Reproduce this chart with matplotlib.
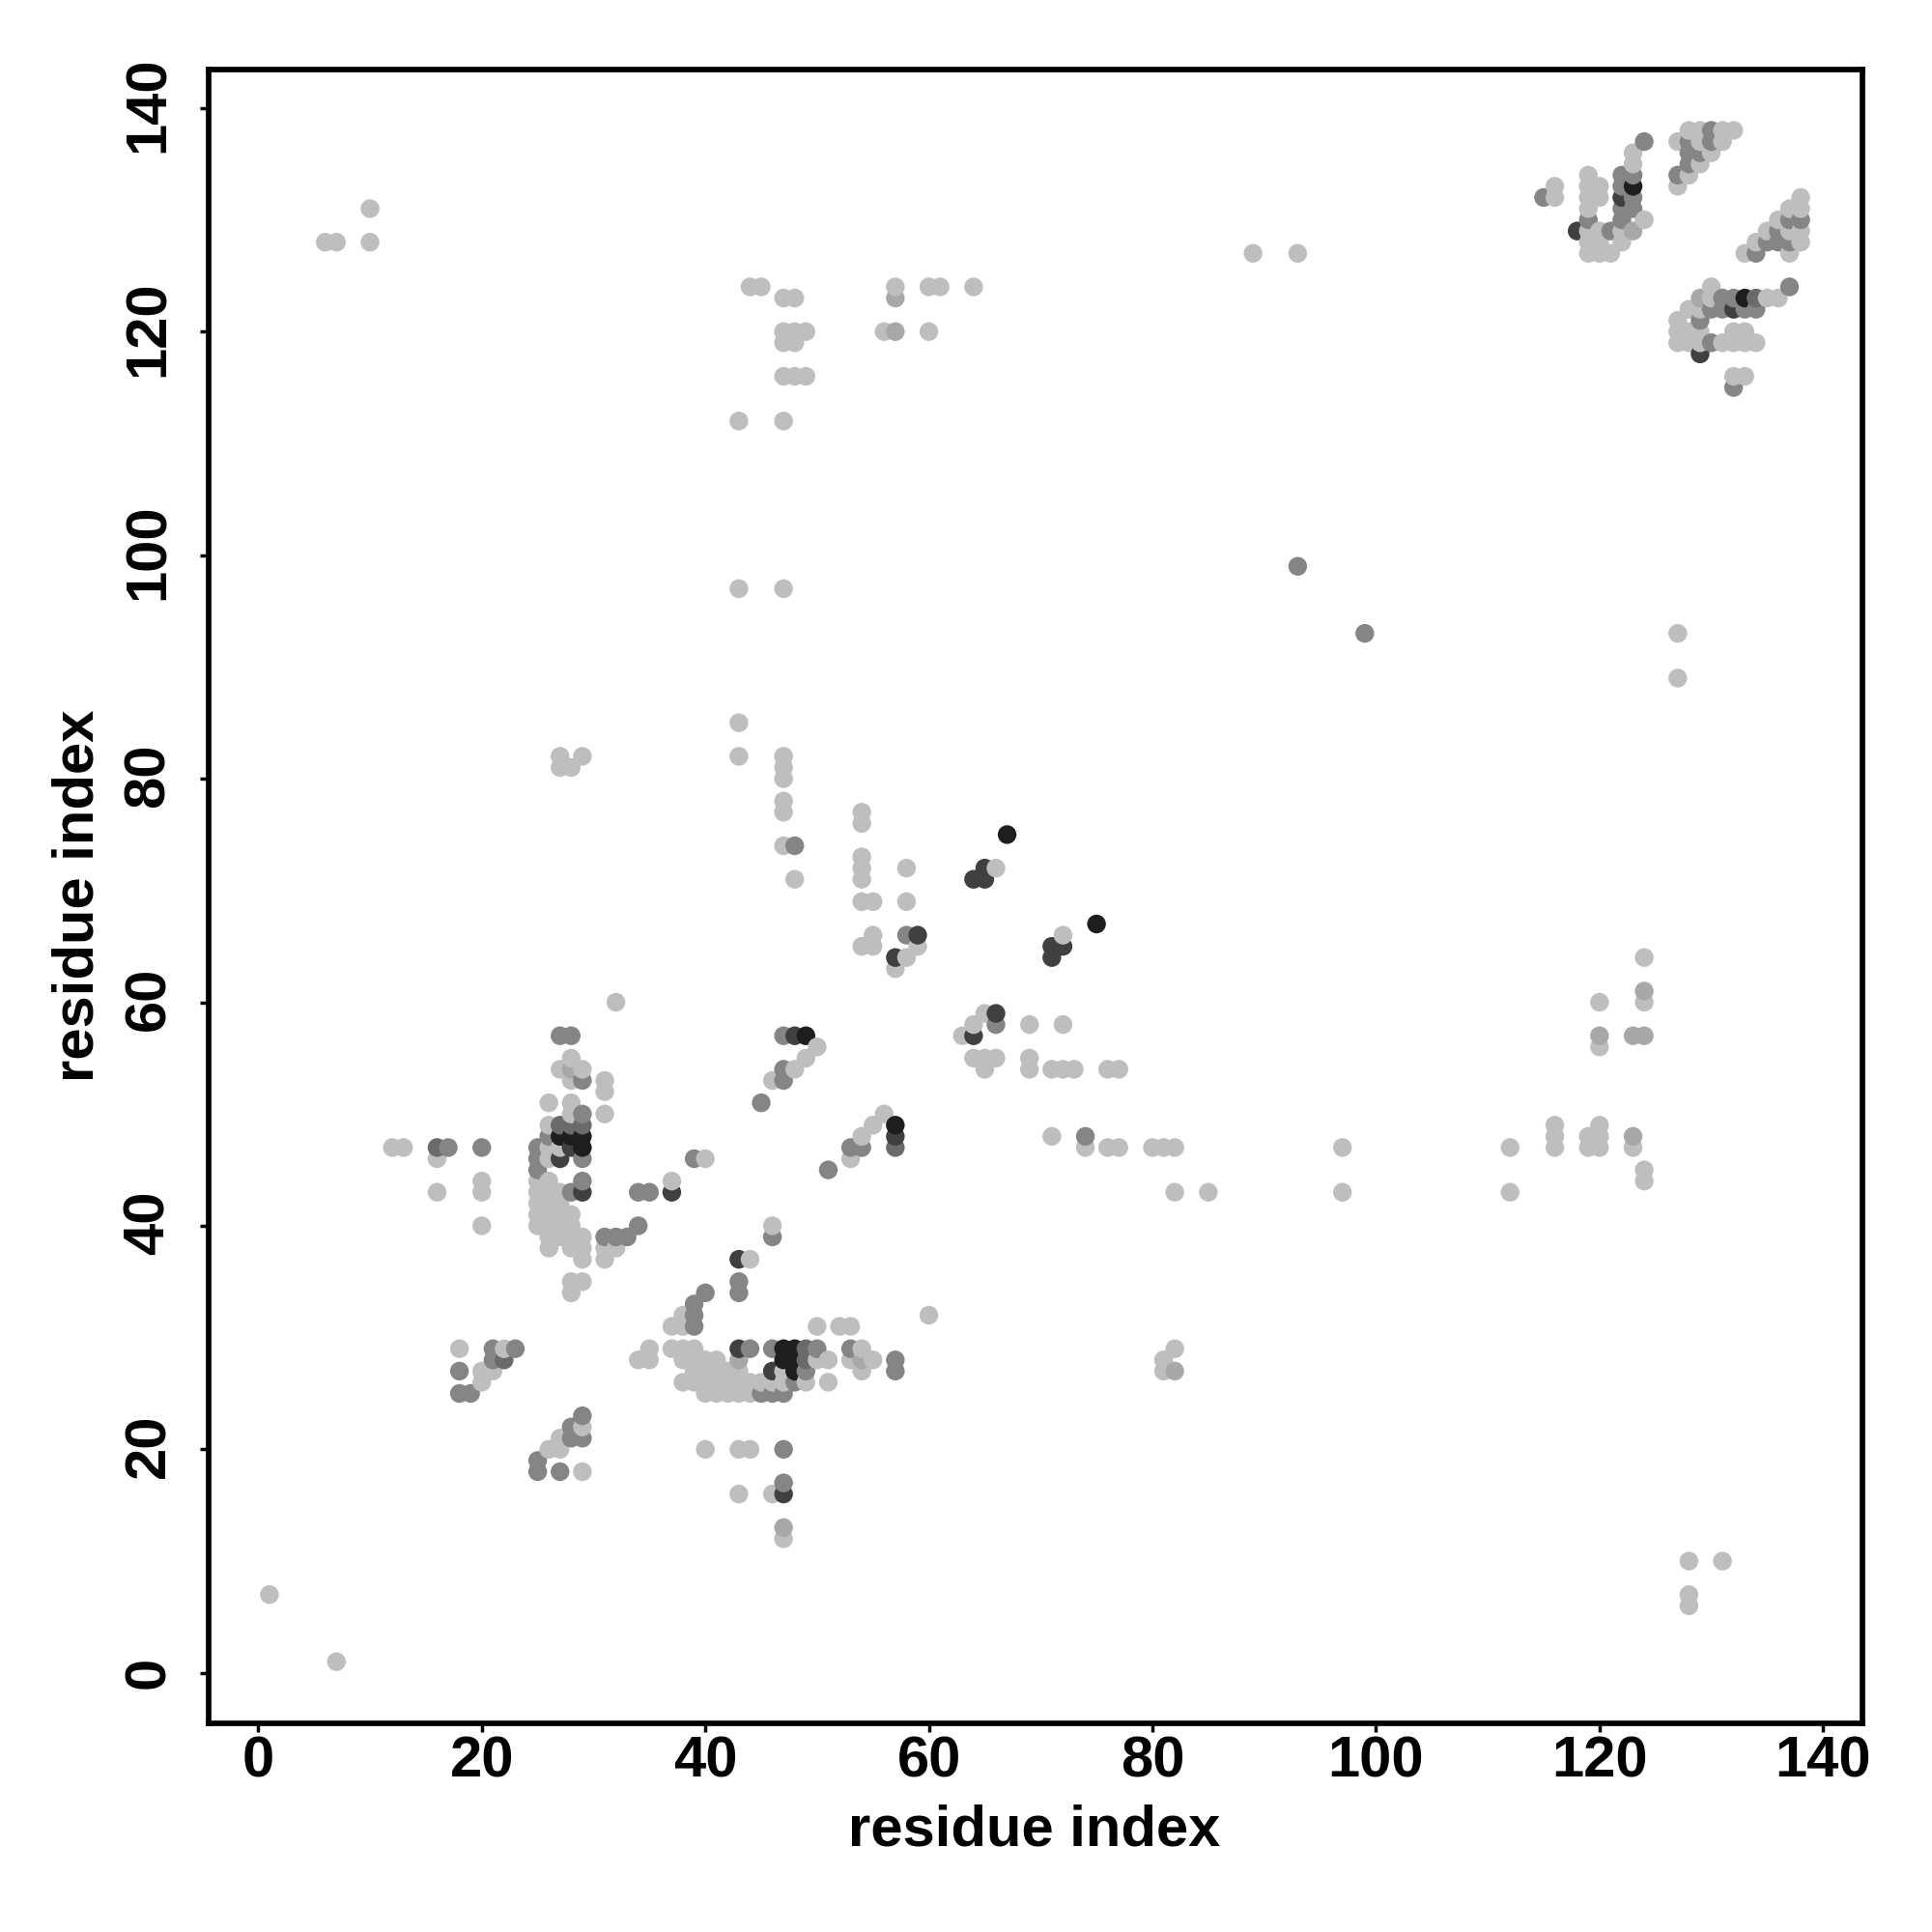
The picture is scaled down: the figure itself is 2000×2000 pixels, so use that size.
import matplotlib
matplotlib.use('Agg')
import matplotlib.pyplot as plt
from matplotlib.transforms import ScaledTranslation

# contacts, grouped by grey level
light_x = [1, 7, 128, 131, 128, 128, 6, 7, 10, 10,
           44, 45, 47, 48, 47, 48, 49, 47, 48, 47, 48, 49, 43, 47, 43, 47, 43, 43, 47, 47, 47, 47, 47, 47, 48,
           27, 29, 27, 28, 56, 60, 57, 60, 61, 64, 89, 93, 127, 127,
           54, 54, 54, 54, 54, 54, 55, 58, 58, 54, 55, 55, 57, 58, 59, 66, 72,
           65, 64, 63, 64, 65, 66, 65, 69, 72, 69, 69, 71, 72, 73, 76, 77, 71, 74, 76, 77, 80, 81, 82, 82, 85,
           97, 97, 112, 112, 116, 116, 116, 119, 119, 120, 120, 120, 120, 120, 124, 124, 123, 124, 124,
           32, 50, 49, 48, 46, 53, 54, 55, 56,
           28, 27, 29, 28, 31, 31, 31, 26, 28, 28, 26, 26, 27, 26,
           25, 26, 25, 26, 27, 25, 26, 27, 25, 26, 27, 28, 25, 26, 27, 28, 26, 27, 28, 29, 26, 28, 29, 29,
           31, 32, 31, 28, 29, 28, 37, 40, 44, 46, 20, 20, 20, 12, 13, 16, 16,
           44, 38, 37, 38, 35, 37, 38, 39, 54,
           34, 35, 38, 39, 40, 41, 50, 51, 53, 55, 39, 40, 41, 42, 43, 47, 54,
           38, 39, 40, 41, 42, 43, 44, 45, 46, 47, 49, 51, 40, 41, 42, 43, 44,
           50, 52, 53, 60, 40, 43, 44, 43, 46, 47,
           18, 20, 20, 21, 22, 26, 27, 27, 29, 29, 82, 81, 81,
           123, 123, 124, 122, 122, 116, 116, 119, 119, 120, 119, 120, 119, 119, 120, 119, 120, 119, 120, 121,
           128, 129, 131, 132, 127, 129, 131, 130, 129, 128, 127,
           138, 137, 138, 136, 135, 137, 138, 134, 138, 133, 137,
           130, 130, 135, 136, 128, 129, 127, 127, 128, 129, 132, 133, 127, 128, 129, 131, 132, 133, 134, 132, 133]
light_y = [7, 1, 10, 10, 7, 6, 128, 128, 128, 131,
           124, 124, 123, 123, 120, 120, 120, 119, 119, 116, 116, 116, 112, 112, 97, 97, 85, 82, 82, 81, 80, 78, 77, 74, 71,
           82, 82, 81, 81, 120, 120, 124, 124, 124, 124, 127, 127, 93, 89,
           77, 76, 73, 72, 71, 69, 69, 72, 69, 65, 66, 65, 63, 64, 65, 72, 66,
           59, 58, 57, 55, 55, 55, 54, 58, 58, 55, 54, 54, 54, 54, 54, 54, 48, 47, 47, 47, 47, 47, 47, 43, 43,
           47, 43, 47, 43, 49, 48, 47, 48, 47, 49, 48, 47, 60, 56, 64, 60, 47, 45, 44,
           60, 56, 55, 54, 53, 46, 48, 49, 50,
           55, 54, 54, 53, 53, 52, 50, 51, 51, 50, 49, 47, 47, 46,
           44, 44, 43, 43, 43, 42, 42, 42, 41, 41, 41, 41, 40, 40, 40, 40, 39, 39, 39, 39, 38, 38, 38, 37,
           38, 38, 37, 35, 35, 34, 44, 46, 37, 40, 44, 43, 40, 47, 47, 46, 43,
           37, 32, 31, 31, 29, 29, 29, 29, 29,
           28, 28, 28, 28, 28, 28, 28, 28, 28, 28, 27, 27, 27, 27, 27, 27, 27,
           26, 26, 26, 26, 26, 26, 26, 26, 26, 26, 26, 26, 25, 25, 25, 25, 25,
           31, 31, 31, 32, 20, 20, 20, 16, 16, 12,
           29, 27, 26, 27, 29, 20, 20, 21, 22, 18, 29, 28, 27,
           136, 135, 130, 129, 128, 133, 132, 134, 133, 133, 132, 132, 131, 129, 129, 128, 128, 127, 127, 127,
           138, 138, 138, 138, 137, 137, 137, 136, 135, 134, 133,
           132, 131, 131, 130, 129, 129, 129, 128, 128, 127, 127,
           124, 123, 123, 123, 122, 122, 121, 120, 120, 120, 120, 120, 119, 119, 119, 119, 119, 119, 119, 116, 116]

pale_x = [57, 57, 43, 54, 82, 120, 123, 124, 124, 123, 28, 47, 129, 123]
pale_y = [120, 123, 28, 28, 27, 57, 57, 57, 61, 48, 54, 13, 123, 129]

mid_x = [93, 99, 48, 66, 58, 74, 47, 47, 47, 45, 51, 53, 54, 27, 28, 29, 29, 29, 26, 25, 25, 25, 29, 29, 28,
         31, 32, 33, 34, 34, 35, 39, 20, 17, 46, 43, 43, 40, 39, 39, 39, 44, 46, 50, 53, 57, 49, 57, 48, 45, 46, 47,
         47, 47, 18, 18, 19, 21, 23, 21, 22, 25, 25, 27, 28, 28, 29, 29,
         124, 123, 122, 122, 123, 122, 123, 122, 121, 115, 119, 128, 130, 128, 128, 129, 128, 130, 127,
         137, 138, 136, 135, 136, 137, 134, 137, 131, 132, 130, 131, 133, 134, 129, 130, 132]
mid_y = [99, 93, 74, 58, 66, 48, 57, 54, 53, 51, 45, 47, 47, 57, 57, 53, 50, 46, 48, 47, 46, 45, 44, 43, 43,
         39, 39, 39, 40, 43, 43, 46, 47, 47, 39, 35, 34, 34, 33, 32, 31, 29, 29, 29, 29, 28, 27, 27, 26, 25, 25, 25,
         20, 17, 27, 25, 25, 29, 29, 28, 28, 19, 18, 18, 22, 21, 23, 21,
         137, 134, 134, 133, 132, 131, 131, 130, 129, 132, 130, 137, 138, 136, 135, 136, 137, 137, 134,
         130, 130, 129, 128, 128, 128, 127, 124, 123, 123, 122, 122, 122, 122, 121, 119, 115]

steel_x = [16, 27, 28, 29, 49, 49, 22, 57, 57, 134]
steel_y = [47, 49, 49, 49, 29, 28, 28, 47, 48, 123]

dark_x = [64, 65, 65, 71, 71, 72, 66, 64, 59, 57, 48, 57, 28, 27, 29, 37, 43, 43, 46,
          47, 122, 118, 132, 129]
dark_y = [71, 71, 72, 65, 64, 65, 59, 57, 66, 64, 57, 48, 47, 46, 43, 43, 37, 29, 27,
          16, 132, 129, 122, 118]

black_x = [49, 57, 67, 75, 27, 28, 29, 29, 47, 48, 47, 48, 48, 123, 133]
black_y = [57, 49, 75, 67, 48, 48, 48, 47, 29, 29, 28, 28, 27, 133, 123]

ticks = [0, 20, 40, 60, 80, 100, 120, 140]
layers = [(light_x, light_y, '#bebebe'), (pale_x, pale_y, '#a8a8a8'), (mid_x, mid_y, '#858585'),
          (steel_x, steel_y, '#6a6a6a'), (dark_x, dark_y, '#404040'), (black_x, black_y, '#1e1e1e')]

plt.rcParams['font.family'] = ['Liberation Sans', 'DejaVu Sans']
fig = plt.figure(figsize=(20, 20), dpi=100)
ax = fig.add_axes([216.3 / 2000, 1 - 1783.7 / 2000, 1712 / 2000, 1712 / 2000])

# the original paints column by column, bottom to top, so overlaps follow that order
contacts = {}
for xs, ys, grey in layers:
    for x, y in zip(xs, ys):
        contacts[(x, y)] = grey
order = sorted(contacts)
ax.scatter([p[0] for p in order], [p[1] for p in order], s=195,
           c=[contacts[p] for p in order], linewidths=0, zorder=3)

ax.set_xlim(-4.41, 143.55)
ax.set_ylim(-4.49, 143.47)
ax.set_xticks(ticks)
ax.set_yticks(ticks)
ax.tick_params(length=6.5, width=2.5, labelsize=43)
ax.tick_params(axis='x', pad=3)
ax.tick_params(axis='y', pad=38)
# rotated labels sit a little low, nudge them up onto their ticks
nudge = ScaledTranslation(0, 3.5 / 100, fig.dpi_scale_trans)
for lab in ax.get_xticklabels():
    lab.set_fontweight('bold')
for lab in ax.get_yticklabels():
    lab.set_fontweight('bold')
    lab.set_rotation(90)
    lab.set_rotation_mode('anchor')
    lab.set_ha('center')
    lab.set_va('center')
    if lab.get_text() != '0':
        lab.set_transform(lab.get_transform() + nudge)
for sp in ax.spines.values():
    sp.set_linewidth(4.1)

fig.text(1071 / 2000, 1 - 1895 / 2000, 'residue index', fontsize=43, fontweight='bold', ha='center', va='center')
fig.text(81 / 2000, 1 - 927 / 2000, 'residue index', fontsize=43, fontweight='bold', ha='center', va='center', rotation=90)

fig.savefig('out.png', dpi=100)
